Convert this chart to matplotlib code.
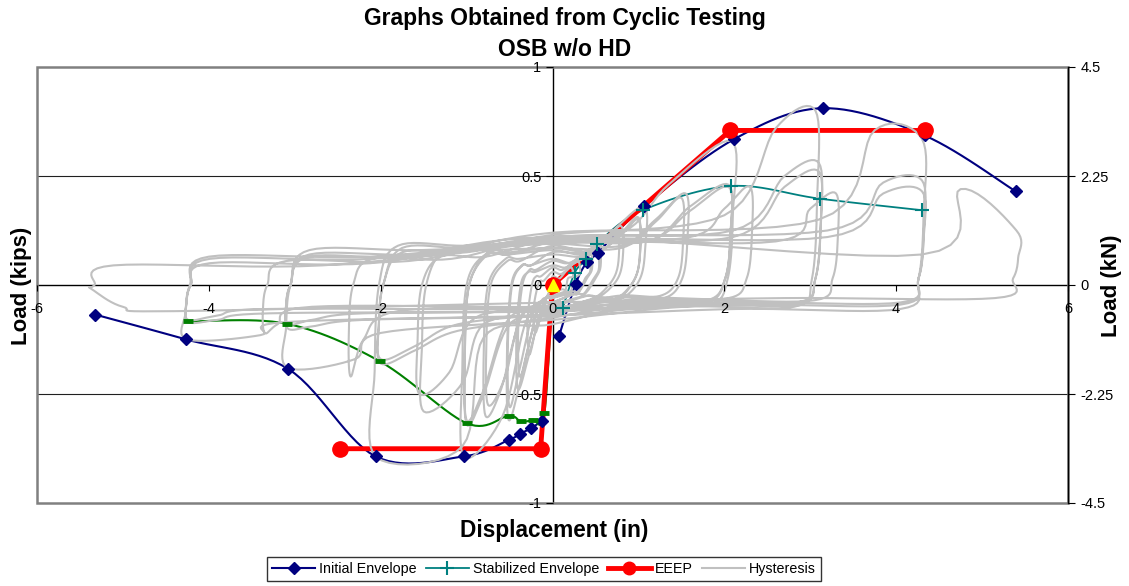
import numpy as np
import matplotlib
matplotlib.use("Agg")
import matplotlib.pyplot as plt
from matplotlib.lines import Line2D
from matplotlib.patches import Rectangle

plt.rcParams['font.family'] = ['Liberation Sans', 'DejaVu Sans']

# ---- envelopes (displacement in, load kips) ----
init_pos_x = [0.078, 0.27, 0.40, 0.53, 1.065, 2.11, 3.15, 4.33, 5.39]
init_pos_y = [-0.232, 0.006, 0.104, 0.149, 0.361, 0.668, 0.811, 0.686, 0.43]
init_neg_x = [-0.125, -0.25, -0.38, -0.51, -1.03, -2.06, -3.08, -4.27, -5.32]
init_neg_y = [-0.624, -0.657, -0.683, -0.711, -0.786, -0.786, -0.384, -0.249, -0.136]

stab_pos_x = [0.12, 0.26, 0.395, 0.52, 1.05, 2.08, 3.11, 4.30]
stab_pos_y = [-0.105, 0.057, 0.118, 0.19, 0.343, 0.454, 0.396, 0.343]
stab_neg_x = [0.0, -0.095, -0.23, -0.37, -0.51, -1.0, -2.01, -3.09, -4.24]
stab_neg_y = [0.0, -0.589, -0.618, -0.626, -0.600, -0.634, -0.350, -0.178, -0.167]

eeep_x = [-2.47, -0.138, 0.0, 2.07, 4.33]
eeep_y = [-0.751, -0.751, 0.0, 0.709, 0.709]

# ---- hysteresis: key points of each cycle ----
hys_pos_band = [(0.08, 0.03), (0.10, 0.05), (0.12, 0.07), (0.15, 0.08), (0.18, 0.10),
                (0.22, 0.10), (0.35, 0.15), (0.35, 0.14), (0.35, 0.13), (0.50, 0.15),
                (0.50, 0.15), (0.85, 0.25), (0.80, 0.18), (0.80, 0.17), (1.10, 0.20),
                (1.10, 0.20), (2.00, 0.32), (1.60, 0.22), (2.10, 0.25), (2.10, 0.22),
                (3.10, 0.30), (2.60, 0.20), (3.20, 0.25), (3.20, 0.22), (4.30, 0.14)]
hys_pos_knee = [(0.15, 0.06), (0.22, 0.09), (0.28, 0.12), (0.30, 0.11), (0.38, 0.14),
                (0.40, 0.13), (0.62, 0.22), (0.60, 0.20), (0.55, 0.18), (0.80, 0.24),
                (0.80, 0.23), (1.35, 0.46), (1.20, 0.30), (1.20, 0.29), (1.60, 0.36),
                (1.60, 0.34), (2.60, 0.72), (2.00, 0.35), (2.70, 0.50), (2.70, 0.45),
                (3.75, 0.71), (3.00, 0.35), (3.85, 0.47), (3.85, 0.42), (4.75, 0.44)]
hys_pos_peak = [(0.22, 0.08), (0.30, 0.11), (0.44, 0.15), (0.42, 0.13), (0.54, 0.17),
                (0.52, 0.15), (1.06, 0.36), (0.80, 0.27), (0.75, 0.24), (1.00, 0.31),
                (1.00, 0.30), (2.08, 0.66), (1.55, 0.42), (1.50, 0.40), (2.05, 0.46),
                (2.05, 0.45), (3.06, 0.80), (2.30, 0.45), (3.10, 0.56), (3.10, 0.52),
                (4.30, 0.67), (3.30, 0.42), (4.30, 0.48), (4.30, 0.43), (5.40, 0.25)]
hys_neg_band = [(-0.05, -0.04), (-0.08, -0.06), (-0.10, -0.08), (-0.14, -0.08), (-0.16, -0.10),
                (-0.20, -0.10), (-0.30, -0.16), (-0.35, -0.14), (-0.35, -0.13), (-0.50, -0.18),
                (-0.50, -0.15), (-0.80, -0.24), (-0.80, -0.18), (-0.90, -0.15), (-1.10, -0.21),
                (-1.10, -0.18), (-2.00, -0.22), (-1.80, -0.12), (-2.20, -0.16), (-2.20, -0.13),
                (-3.10, -0.17), (-2.80, -0.10), (-3.30, -0.13), (-3.30, -0.11), (-4.40, -0.12)]
hys_neg_knee = [(-0.12, -0.12), (-0.18, -0.18), (-0.26, -0.30), (-0.28, -0.28), (-0.36, -0.42),
                (-0.38, -0.38), (-0.58, -0.60), (-0.60, -0.48), (-0.55, -0.42), (-0.80, -0.50),
                (-0.80, -0.48), (-1.05, -0.74), (-1.05, -0.45), (-1.20, -0.40), (-1.60, -0.30),
                (-1.60, -0.28), (-2.30, -0.34), (-2.20, -0.25), (-2.80, -0.19), (-2.80, -0.16),
                (-3.40, -0.23), (-3.20, -0.18), (-3.90, -0.16), (-3.90, -0.14), (-5.00, -0.10)]
hys_neg_peak = [(-0.20, -0.22), (-0.27, -0.32), (-0.40, -0.48), (-0.38, -0.42), (-0.51, -0.62),
                (-0.50, -0.56), (-1.03, -0.79), (-0.78, -0.60), (-0.75, -0.55), (-1.00, -0.64),
                (-1.00, -0.62), (-2.05, -0.79), (-1.50, -0.58), (-1.55, -0.50), (-2.00, -0.36),
                (-2.00, -0.34), (-3.08, -0.38), (-2.35, -0.42), (-3.08, -0.20), (-3.08, -0.18),
                (-4.25, -0.25), (-3.35, -0.22), (-4.24, -0.17), (-4.24, -0.16), (-5.36, -0.02)]
# load where the reloading / unloading paths cross zero displacement, and mid band loads
hys_up0 = [0.04, 0.06, 0.08, 0.09, 0.11, 0.12, 0.15, 0.16, 0.14, 0.18,
           0.17, 0.20, 0.19, 0.17, 0.21, 0.20, 0.23, 0.19, 0.22, 0.20,
           0.24, 0.20, 0.22, 0.21, 0.22]
hys_up_neg = [0.02, 0.04, 0.06, 0.07, 0.09, 0.09, 0.14, 0.12, 0.11, 0.15,
              0.14, 0.18, 0.16, 0.13, 0.17, 0.15, 0.16, 0.12, 0.14, 0.13,
              0.13, 0.11, 0.12, 0.10, 0.09]
hys_low0 = [-0.03, -0.05, -0.06, -0.06, -0.08, -0.08, -0.12, -0.10, -0.09, -0.14,
            -0.12, -0.18, -0.13, -0.11, -0.15, -0.13, -0.16, -0.10, -0.14, -0.12,
            -0.14, -0.10, -0.12, -0.11, -0.08]
hys_low_pos = [-0.02, -0.03, -0.03, -0.04, -0.04, -0.04, -0.06, -0.05, -0.05, -0.07,
               -0.06, -0.09, -0.06, -0.05, -0.08, -0.07, -0.10, -0.06, -0.09, -0.08,
               -0.11, -0.07, -0.09, -0.08, -0.06]


def smooth(xs, ys, n=14):
    # Excel style smoothed line (bezier, control points at 1/6 of neighbour chord)
    p = np.column_stack([xs, ys]).astype(float)
    pe = np.vstack([p[0], p, p[-1]])
    t = np.linspace(0, 1, n, endpoint=False)[:, None]
    out = []
    for i in range(1, len(pe) - 2):
        p0, p1, p2, p3 = pe[i - 1], pe[i], pe[i + 1], pe[i + 2]
        c1 = p1 + (p2 - p0) / 6
        c2 = p2 - (p3 - p1) / 6
        out.append((1 - t) ** 3 * p1 + 3 * (1 - t) ** 2 * t * c1
                   + 3 * (1 - t) * t ** 2 * c2 + t ** 3 * p2)
    out.append(p[-1:])
    s = np.vstack(out)
    return s[:, 0], s[:, 1]


def hysteresis_path():
    pts = [(0.0, 0.0)]
    for i in range(len(hys_pos_peak)):
        px, py = hys_pos_peak[i]
        nx, ny = hys_neg_peak[i]
        dp = min(0.25, 0.3 * px)
        dn = min(0.25, 0.3 * -nx)
        pts += [(0.0, hys_up0[i]), hys_pos_band[i], hys_pos_knee[i], hys_pos_peak[i],
                (px + 0.02, py * 0.5), (px - 0.04, 0.03), (px - dp, hys_low_pos[i]),
                (px * 0.5, hys_low_pos[i]), (0.0, hys_low0[i]),
                hys_neg_band[i], hys_neg_knee[i], hys_neg_peak[i],
                (nx - 0.02, ny * 0.5), (nx + 0.03, 0.0), (nx + dn, hys_up_neg[i]),
                (nx * 0.5, hys_up_neg[i])]
    pts.append((0.0, 0.2))
    xs, ys = zip(*pts)
    return smooth(xs, ys, 10)


navy = '#000080'
teal = '#008080'
green = '#008000'
red = '#FF0000'
gray = '#C0C0C0'

fig = plt.figure(figsize=(11.29, 5.86), dpi=100)
ax = fig.add_axes([37 / 1129, 83 / 586, 1031 / 1129, 436 / 586])
ax.set_xlim(-6, 6)
ax.set_ylim(-1, 1)

# lines first, hysteresis over them, markers on top
ax.plot(*smooth(init_pos_x, init_pos_y), color=navy, lw=1.5, zorder=2)
ax.plot(*smooth(init_neg_x, init_neg_y), color=navy, lw=1.5, zorder=2)
ax.plot(*smooth(stab_pos_x, stab_pos_y), color=teal, lw=1.3, zorder=2)
ax.plot(*smooth(stab_neg_x, stab_neg_y), color=green, lw=1.5, zorder=2)
ax.plot(eeep_x, eeep_y, color=red, lw=3.5, zorder=2.2, solid_capstyle='butt')

hx, hy = hysteresis_path()
ax.plot(hx, hy, color=gray, lw=1.5, zorder=3)

ax.plot(init_pos_x, init_pos_y, 'D', color=navy, ms=6.5, zorder=5)
ax.plot(init_neg_x, init_neg_y, 'D', color=navy, ms=6.5, zorder=5)
ax.plot(stab_pos_x, stab_pos_y, '+', color=teal, ms=10, mew=1.5, zorder=5)
ax.plot(stab_neg_x[1:], stab_neg_y[1:], '_', color=green, ms=7, mew=3.5, zorder=5)
ax.plot(eeep_x, eeep_y, 'o', color=red, ms=11, zorder=5)
ax.plot([0.0], [0.0], '^', color='#FFFF00', ms=8, mec='#FFFF00', zorder=6)

# axes crossing at zero, Excel style frame; axis lines under the data, labels above
ax.spines['left'].set_position(('data', 0))
ax.spines['bottom'].set_position(('data', 0))
ax.spines['top'].set_visible(False)
ax.spines['right'].set_visible(False)
for s in ('left', 'bottom'):
    ax.spines[s].set_zorder(1.5)
    ax.spines[s].set_linewidth(1.0)
ax.xaxis.set_zorder(4)
ax.yaxis.set_zorder(4)
ax.add_patch(Rectangle((0, 0), 1, 1, transform=ax.transAxes, fill=False,
                       ec='#808080', lw=1.8, zorder=1.6, clip_on=False))
for yv in (-0.5, 0.5):
    ax.axhline(yv, color='#202020', lw=0.8, zorder=1)

ax.set_xticks([-6, -4, -2, 0, 2, 4, 6])
ax.set_xticklabels(['-6', '-4', '-2', '0', '2', '4', '6'])
ax.set_yticks([-1, -0.5, 0, 0.5, 1])
ax.set_yticklabels(['-1', '-0.5', '0', '0.5', '1'])
ax.tick_params(axis='x', direction='out', length=4, pad=8, labelsize=10.5)
ax.tick_params(axis='y', direction='out', length=5, pad=3, labelsize=10.5)

ax2 = ax.twinx()
ax2.set_ylim(-4.5, 4.5)
ax2.set_yticks([-4.5, -2.25, 0, 2.25, 4.5])
ax2.set_yticklabels(['-4.5', '-2.25', '0', '2.25', '4.5'])
for s in ('left', 'top', 'bottom'):
    ax2.spines[s].set_visible(False)
ax2.spines['right'].set_linewidth(1.0)
ax2.tick_params(axis='y', direction='out', length=5, pad=4, labelsize=10.5)

fig.text(565 / 1129, 1 - 19 / 586, 'Graphs Obtained from Cyclic Testing',
         ha='center', va='center', fontsize=16.5, fontweight='bold')
fig.text(565 / 1129, 1 - 49 / 586, 'OSB w/o HD',
         ha='center', va='center', fontsize=16.5, fontweight='bold')
fig.text(554 / 1129, 1 - 531 / 586, 'Displacement (in)',
         ha='center', va='center', fontsize=16.3, fontweight='bold')
fig.text(22 / 1129, 1 - 286 / 586, 'Load (kips)', rotation=90,
         ha='center', va='center', fontsize=16, fontweight='bold')
fig.text(1111 / 1129, 1 - 286 / 586, 'Load (kN)', rotation=90,
         ha='center', va='center', fontsize=16, fontweight='bold')

handles = [
    Line2D([], [], color=navy, lw=1.5, marker='D', ms=6.5),
    Line2D([], [], color=teal, lw=1.3, marker='+', ms=10, mew=1.5),
    Line2D([], [], color=red, lw=3.5, marker='o', ms=9),
    Line2D([], [], color=gray, lw=1.5),
]
labels = ['Initial Envelope', 'Stabilized Envelope', 'EEEP', 'Hysteresis']
leg = fig.legend(handles, labels, loc='center', bbox_to_anchor=(544 / 1129, 1 - 569 / 586),
                 ncol=4, frameon=True, fancybox=False, edgecolor='black', fontsize=10.3,
                 handlelength=3.0, columnspacing=0.6, handletextpad=0.3, borderpad=0.35)
leg.get_frame().set_linewidth(1.0)

fig.savefig('out.png', dpi=100)
